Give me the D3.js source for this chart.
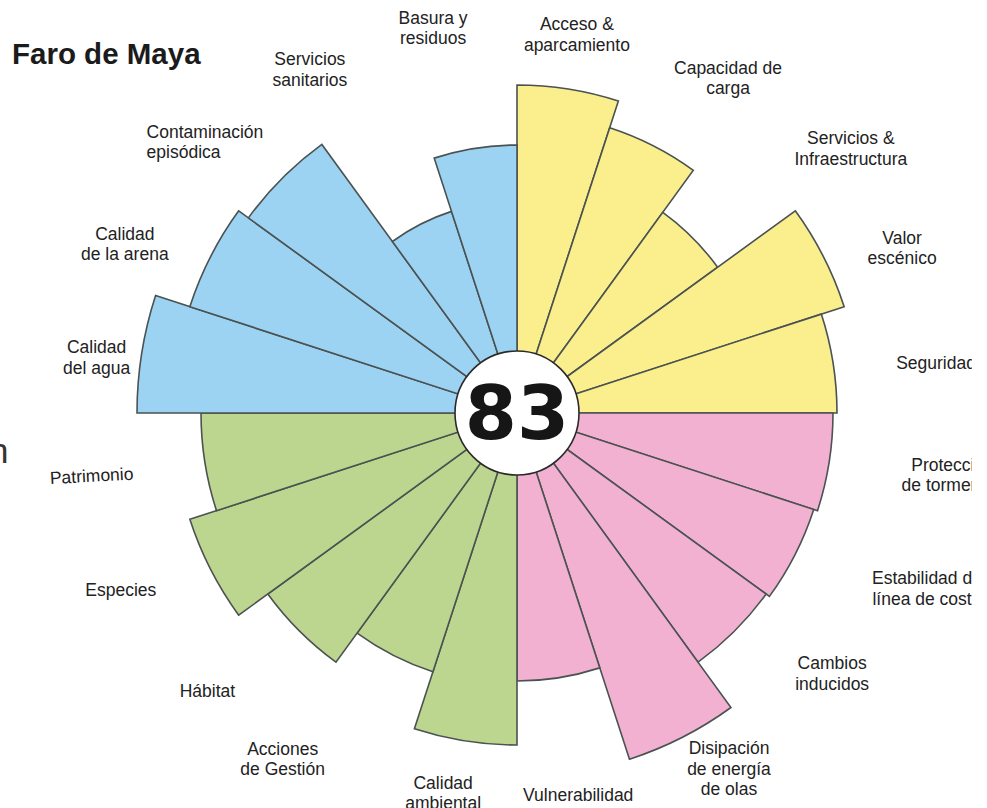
<!DOCTYPE html>
<html>
<head>
<meta charset="utf-8">
<script src="https://cdn.jsdelivr.net/npm/d3@7/dist/d3.min.js"></script>
<style>
  body { margin: 0; background: #fff; }
  svg { display: block; font-family: "Liberation Sans", Arial, sans-serif; }
</style>
</head>
<body>
<svg width="987" height="808"></svg>
<script>
// categories clockwise from 12 o'clock, label lines split with "|"
let categories = [
  "Acceso &|aparcamiento", "Capacidad de|carga", "Servicios &|Infraestructura", "Valor|escénico", "Seguridad",
  "Protección|de tormentas", "Estabilidad de|línea de costa", "Cambios|inducidos", "Disipación|de energía|de olas", "Vulnerabilidad",
  "Calidad|ambiental", "Acciones|de Gestión", "Hábitat", "Especies", "Patrimonio",
  "Calidad|del agua", "Calidad|de la arena", "Contaminación|episódica", "Servicios|sanitarios", "Basura y|residuos"
];
// score of each category (0-100)
let values = [82, 75, 62, 86, 80, 79, 78, 77, 91, 67, 83, 68, 77, 86, 79, 95, 86, 83, 53, 67];
// colour group of each category
let groupOf = [0, 0, 0, 0, 0, 1, 1, 1, 1, 1, 2, 2, 2, 2, 2, 3, 3, 3, 3, 3];
let groupColors = ["#faee8d", "#f3b1d1", "#bdd68f", "#9dd3f2"];
let siteName = "Faro de Maya";
let totalScore = 83;

// label anchors: angle (deg, clockwise from top), distance from centre
let labelPolar = [
  [9, 383], [32.2, 396], [51.6, 426], [66.8, 419], [83.2, 422],
  [98.1, 440], [113.2, 446], [129.6, 409], [149.2, 414], [170.9, 387],
  [191, 387], [214.1, 418], [228.1, 416], [245.9, 434], [261.6, 430],
  [277.5, 424], [293.3, 427], [306.2, 459], [328.9, 401], [347.7, 394]
];

let svg = d3.select("svg");
let width = +svg.attr("width");
let height = +svg.attr("height");
let cx = 517, cy = 413;

let data = categories.map((c, i) => ({ name: c, value: values[i], group: groupOf[i], i: i }));

let angle = d3.scaleBand()
  .domain(categories)
  .range([0, 2 * Math.PI])
  .padding(0);
let radius = d3.scaleLinear()
  .domain([0, 100])
  .range([0, 400]);
let color = d3.scaleOrdinal()
  .domain([0, 1, 2, 3])
  .range(groupColors);

let defs = svg.append("defs");
defs.append("clipPath").attr("id", "crop")
  .append("rect").attr("x", 0).attr("y", 0).attr("width", 972).attr("height", height);
defs.append("clipPath").attr("id", "cropLeft")
  .append("rect").attr("x", 0).attr("y", 0).attr("width", 12).attr("height", height);

let root = svg.append("g").attr("clip-path", "url(#crop)");

// title
root.append("text")
  .attr("x", 12).attr("y", 64)
  .attr("font-size", 29.5).attr("font-weight", "bold")
  .attr("fill", "#1b1b1b")
  .text(siteName);

// piece of the neighbouring figure cut at the left edge
root.append("text")
  .attr("clip-path", "url(#cropLeft)")
  .attr("x", -11).attr("y", 463)
  .attr("font-size", 35)
  .attr("fill", "#333")
  .text("n");

let chart = root.append("g")
  .attr("transform", "translate(" + cx + "," + cy + ")");

let arcGen = d3.arc()
  .innerRadius(0)
  .outerRadius(d => radius(d.value))
  .startAngle(d => angle(d.name))
  .endAngle(d => angle(d.name) + angle.bandwidth());

chart.append("g")
  .selectAll("path")
  .data(data)
  .join("path")
    .attr("fill", d => color(d.group))
    .attr("stroke", "#4a5252")
    .attr("stroke-width", 1.6)
    .attr("stroke-linejoin", "miter")
    .attr("d", arcGen);

// centre disc with total score
chart.append("circle")
  .attr("r", 62)
  .attr("fill", "#fff")
  .attr("stroke", "#2a2a2a")
  .attr("stroke-width", 1.6);

chart.append("text")
  .attr("text-anchor", "middle")
  .attr("y", 26)
  .attr("font-family", "'DejaVu Sans', sans-serif")
  .attr("font-weight", "bold")
  .attr("font-size", 75)
  .attr("fill", "#161616")
  .text(totalScore);

// labels
let lineH = 20.5;
let labelG = chart.append("g")
  .attr("font-size", 17.5)
  .attr("fill", "#222");

data.forEach((d, i) => {
  let a = labelPolar[i][0] * Math.PI / 180;
  let r = labelPolar[i][1];
  let x = r * Math.sin(a);
  let y = -r * Math.cos(a);
  let lines = d.name.split("|");
  let anchor = (i == 17) ? "start" : "middle";
  let t = labelG.append("text")
    .attr("text-anchor", anchor)
    .attr("transform", "translate(" + x + "," + y + ")" + (i == 14 ? " rotate(-3)" : ""));
  lines.forEach((ln, k) => {
    t.append("tspan")
      .attr("x", 0)
      .attr("y", -(lines.length - 1) * lineH / 2 + k * lineH + 6)
      .text(ln);
  });
});
</script>
</body>
</html>
